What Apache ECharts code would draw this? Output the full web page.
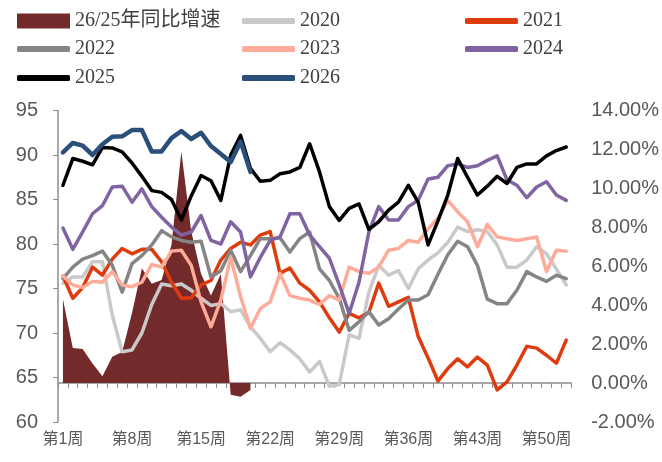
<!DOCTYPE html>
<html>
<head>
<meta charset="utf-8">
<script src="https://cdn.jsdelivr.net/npm/echarts@6/dist/echarts.min.js"></script>
<style>
  html, body { margin: 0; padding: 0; background: #fff; }
  #chart { width: 662px; height: 462px; }
</style>
</head>
<body>
<div id="chart"></div>
<script>
// Weekly index by year (left axis) and 2026-vs-2025 growth in % (right axis)
const weeks = Array.from({ length: 52 }, (_, i) => '第' + (i + 1) + '周');

const y2020 = [75.6, 76.3, 76.3, 78.0, 78.0, 72.0, 67.9, 68.1, 70.0, 73.2,
  75.5, 75.3, 75.5, 74.8, 73.9, 73.1, 73.3, 72.4, 72.6, 70.7,
  69.4, 67.9, 68.9, 68.1, 67.1, 65.6, 66.8, 64.0, 64.2, 69.8,
  69.4, 74.6, 77.6, 76.5, 77.0, 75.0, 77.2, 78.2, 79.0, 80.2,
  81.9, 81.4, 81.6, 81.4, 79.9, 77.4, 77.4, 78.2, 79.7, 78.9,
  77.2, 75.4];

const y2021 = [76.4, 73.9, 75.1, 77.4, 76.5, 78.3, 79.5, 78.9, 79.4, 79.4,
  78.0, 75.7, 73.9, 73.95, 75.4, 75.9, 78.2, 79.5, 80.2, 79.9,
  81.0, 81.4, 76.7, 77.3, 75.6, 74.8, 73.5, 71.7, 70.1, 72.2,
  71.7, 72.3, 75.6, 73.0, 73.5, 74.0, 69.6, 67.2, 64.6, 66.0,
  67.1, 66.2, 67.3, 66.4, 63.6, 64.5, 66.4, 68.5, 68.3, 67.5,
  66.6, 69.2];

const y2022 = [76.1, 77.4, 78.3, 78.7, 79.2, 77.6, 74.6, 77.8, 78.7, 79.9,
  81.5, 80.8, 80.4, 80.2, 80.3, 76.3, 77.0, 79.3, 76.9, 78.7,
  80.6, 80.6, 80.7, 79.1, 80.6, 81.35, 77.2, 75.9, 73.9, 70.3,
  71.25, 72.4, 70.9, 71.6, 72.7, 73.7, 73.7, 74.3, 76.6, 78.8,
  80.3, 79.7, 77.6, 73.8, 73.3, 73.3, 74.8, 76.9, 76.3, 75.8,
  76.5, 76.1];

const y2023 = [76.4, 75.4, 75.1, 75.8, 75.7, 76.9, 75.4, 75.2, 75.7, 77.7,
  77.4, 79.2, 79.3, 77.6, 73.5, 70.7, 73.7, 78.5, 74.1, 70.5,
  72.75, 73.5, 76.7, 74.2, 73.9, 73.7, 73.2, 74.2, 73.7, 77.4,
  76.9, 76.7, 77.4, 79.3, 79.5, 80.4, 80.2, 81.7, 82.9, 84.9,
  83.6, 82.5, 79.7, 82.2, 80.8, 80.6, 80.4, 80.6, 80.8, 76.9,
  79.3, 79.2];

const y2024 = [81.8, 79.4, 81.35, 83.4, 84.3, 86.4, 86.5, 84.7, 86.2, 84.2,
  83.0, 81.9, 81.0, 81.35, 83.2, 80.4, 80.0, 82.5, 81.35, 76.3,
  78.5, 80.4, 80.8, 83.4, 83.4, 81.0, 79.7, 78.4, 75.4, 72.2,
  75.7, 81.35, 84.2, 82.7, 82.7, 84.2, 84.9, 87.3, 87.5, 88.8,
  89.0, 88.6, 88.8, 89.4, 89.9, 87.2, 86.6, 85.2, 86.4, 87.0,
  85.5, 84.9];

const y2025 = [86.6, 89.6, 89.3, 88.9, 90.85, 90.8, 90.35, 89.1, 87.6, 86.0,
  85.8, 85.0, 82.7, 85.4, 87.7, 87.1, 84.9, 90.0, 92.2, 88.5,
  87.05, 87.15, 87.9, 88.1, 88.6, 91.26, 88.1, 84.2, 82.65, 84.0,
  84.5, 81.65, 82.5, 83.8, 84.7, 86.6, 84.7, 79.9, 82.6, 85.5,
  89.6, 87.5, 85.5, 86.5, 87.6, 86.8, 88.6, 89.0, 89.0, 89.9,
  90.5, 90.9];

const y2026 = [90.3, 91.35, 91.05, 90.0, 91.2, 92.05, 92.1, 92.8, 92.8, 90.4,
  90.4, 91.9, 92.7, 91.8, 92.5, 91.0, 90.1, 89.2, 91.5, 88.1];

// 26/25 year-on-year growth, percent
const yoy = [4.3, 1.8, 1.75, 1.0, 0.35, 1.35, 1.6, 3.6, 5.9, 5.1,
  5.3, 7.1, 11.9, 7.8, 5.6, 4.5, 5.6, -0.6, -0.7, -0.35];

const yoyName = '26/25年同比增速';
const lineSeries = [
  { name: '2020', data: y2020, color: '#C9C9C9', width: 3.5 },
  { name: '2021', data: y2021, color: '#DE3B0E', width: 3.5 },
  { name: '2022', data: y2022, color: '#858585', width: 3.5 },
  { name: '2023', data: y2023, color: '#FFAB9A', width: 3.5 },
  { name: '2024', data: y2024, color: '#8064A2', width: 3.5 },
  { name: '2025', data: y2025, color: '#000000', width: 3.5 },
  { name: '2026', data: y2026, color: '#2B4F7B', width: 4.5 }
];

const axisGray = '#8C8C8C';
const textGray = '#595959';
const legendFont = { fontSize: 20, fontFamily: '"Liberation Serif", "Noto Sans CJK SC", serif', color: '#404040' };

// Legend placed as a 3-column grid
const legendSlots = [
  { name: yoyName, left: 12, top: 6, rect: true },
  { name: '2020', left: 237, top: 6 },
  { name: '2021', left: 460, top: 6 },
  { name: '2022', left: 12, top: 34 },
  { name: '2023', left: 237, top: 34 },
  { name: '2024', left: 460, top: 34 },
  { name: '2025', left: 12, top: 63 },
  { name: '2026', left: 237, top: 63 }
];
const legends = legendSlots.map(s => ({
  data: [{ name: s.name, icon: s.rect ? 'rect' : 'roundRect' }],
  left: s.left,
  top: s.top,
  itemWidth: 53,
  itemHeight: s.rect ? 15 : 6,
  itemGap: 5,
  selectedMode: false,
  textStyle: legendFont
}));

const series = [{
  name: yoyName,
  type: 'line',
  yAxisIndex: 1,
  data: yoy,
  symbol: 'none',
  lineStyle: { width: 0 },
  itemStyle: { color: '#722A2A' },
  areaStyle: { color: '#722A2A', opacity: 1, origin: 'auto' },
  z: 1
}].concat(lineSeries.map((s, i) => ({
  name: s.name,
  type: 'line',
  yAxisIndex: 0,
  data: s.data,
  symbol: 'none',
  itemStyle: { color: s.color },
  lineStyle: { color: s.color, width: s.width, join: 'round', cap: 'round' },
  z: 2 + i
})));

const chart = echarts.init(document.getElementById('chart'), null, { renderer: 'canvas' });
chart.setOption({
  animation: false,
  backgroundColor: '#ffffff',
  legend: legends,
  grid: { left: 58, right: 82, top: 110.5, bottom: 40, containLabel: false },
  xAxis: {
    type: 'category',
    data: weeks,
    boundaryGap: true,
    axisLine: { lineStyle: { color: axisGray, width: 1.5 } },
    axisTick: { show: true, interval: 0, length: 5, lineStyle: { color: axisGray } },
    axisLabel: {
      interval: 6, margin: 10, fontSize: 16, color: textGray,
      fontFamily: '"Liberation Sans", "Noto Sans CJK SC", sans-serif'
    },
    splitLine: { show: false }
  },
  yAxis: [{
    type: 'value',
    min: 60, max: 95, interval: 5,
    axisLine: { show: true, lineStyle: { color: axisGray, width: 1.5 } },
    axisTick: { show: true, length: 5, lineStyle: { color: axisGray } },
    axisLabel: { margin: 20, fontSize: 20, color: textGray, fontFamily: '"Liberation Sans", sans-serif' },
    splitLine: { show: false }
  }, {
    type: 'value',
    position: 'right',
    min: -2, max: 14, interval: 2,
    axisLine: { show: false },
    axisTick: { show: false },
    axisLabel: {
      margin: 20, fontSize: 20, color: textGray, fontFamily: '"Liberation Sans", sans-serif',
      formatter: v => v.toFixed(2) + '%'
    },
    splitLine: { show: false }
  }],
  series: series
});
</script>
</body>
</html>
